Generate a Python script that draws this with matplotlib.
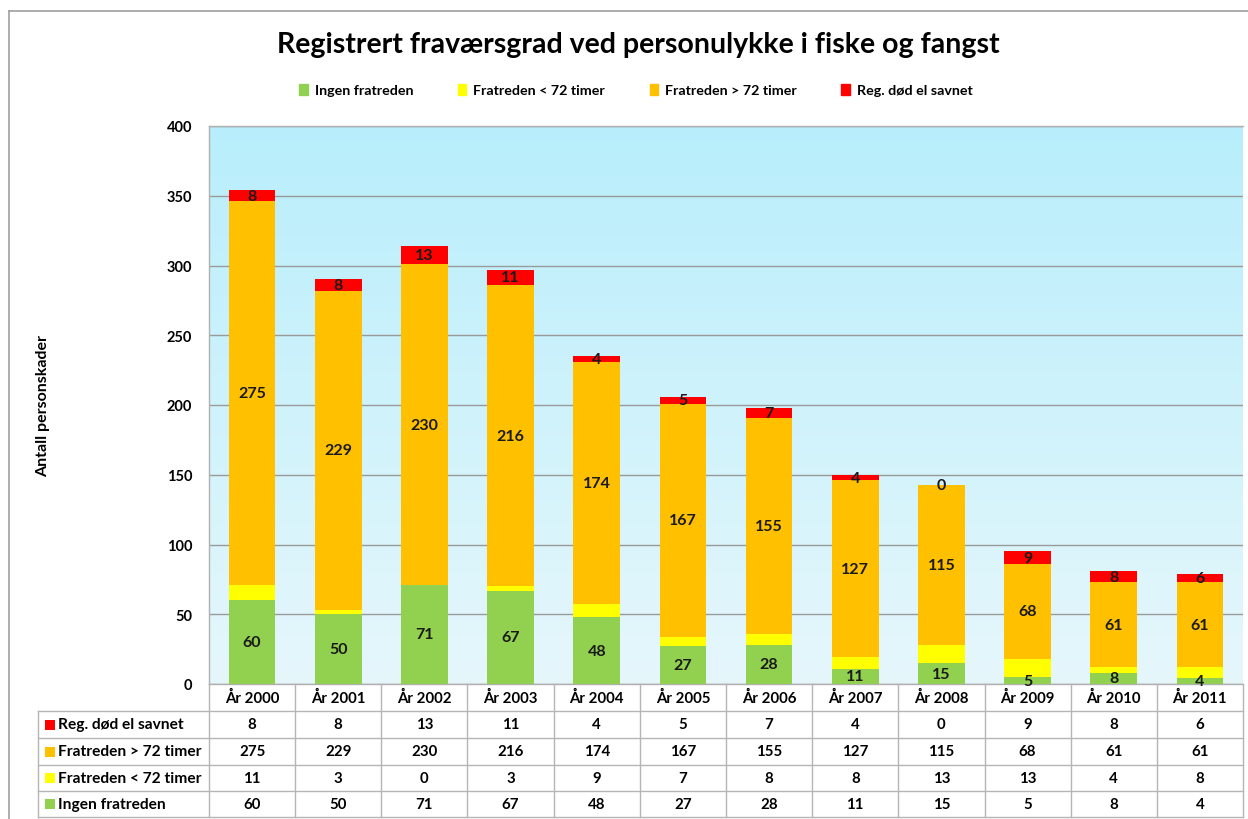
import matplotlib
matplotlib.use("Agg")
import matplotlib.pyplot as plt
import numpy as np
from matplotlib.lines import Line2D
from matplotlib.patches import Rectangle
import matplotlib.transforms as mtransforms

plt.rcParams['font.family'] = ['Lato', 'DejaVu Sans']

years = ["År 2000", "År 2001", "År 2002", "År 2003", "År 2004", "År 2005",
         "År 2006", "År 2007", "År 2008", "År 2009", "År 2010", "År 2011"]
ingen = [60, 50, 71, 67, 48, 27, 28, 11, 15, 5, 8, 4]
under72 = [11, 3, 0, 3, 9, 7, 8, 8, 13, 13, 4, 8]
over72 = [275, 229, 230, 216, 174, 167, 155, 127, 115, 68, 61, 61]
dod = [8, 8, 13, 11, 4, 5, 7, 4, 0, 9, 8, 6]

series_names = ["Ingen fratreden", "Fratreden < 72 timer", "Fratreden > 72 timer", "Reg. død el savnet"]
colors = ["#92D050", "#FFFF00", "#FFC000", "#FF0000"]

W, H = 1248, 820
fig = plt.figure(figsize=(W / 100, H / 100), dpi=100)

def fx(px):
    return px / W

def fy(py):
    return 1 - py / H

ax_l, ax_r, ax_t, ax_b = 209, 1243, 127, 685
ax = fig.add_axes([fx(ax_l), fy(ax_b), fx(ax_r - ax_l), (ax_b - ax_t) / H])

# gradient background
grad = np.linspace(0, 1, 256).reshape(-1, 1)
top = np.array([184, 238, 251]) / 255
bot = np.array([230, 247, 252]) / 255
img = bot + (top - bot) * grad
img = img.reshape(256, 1, 3)
ax.imshow(img, extent=[0, 1, 0, 1], transform=ax.transAxes, origin='lower',
          aspect='auto', zorder=0)

x = np.arange(len(years))
width = 0.54
data = [ingen, under72, over72, dod]
bottom = np.zeros(len(years))
containers = []
for vals, c, name in zip(data, colors, series_names):
    cont = ax.bar(x, vals, width, bottom=bottom, color=c, label=name, zorder=3)
    containers.append(cont)
    bottom = bottom + np.array(vals)

for idx in (0, 2, 3):
    ax.bar_label(containers[idx], labels=[str(v) for v in data[idx]], label_type='center',
                 fontsize=11.5, fontweight='bold', color='#1a1a1a', zorder=4)

ax.set_xlim(-0.5, len(years) - 0.5)
ax.set_ylim(0, 400)
ax.set_yticks(range(0, 401, 50))
ax.set_yticklabels([str(v) for v in range(0, 401, 50)], fontsize=10.5, fontweight='bold')
ax.tick_params(axis='y', length=0, pad=12)
ax.set_xticks([])
ax.yaxis.grid(True, color='#9a9a9a', linewidth=1.0, zorder=1)
ax.set_axisbelow(True)
for s in ax.spines.values():
    s.set_color('#b0b0b0')
    s.set_linewidth(1.0)
ax.spines['right'].set_visible(False)

fig.text(fx(43), fy(406), "Antall personskader", rotation=90, ha='center', va='center',
         fontsize=11.5, fontweight='bold')

fig.text(fx(638), fy(45), "Registrert fraværsgrad ved personulykke i fiske og fangst",
         ha='center', va='center', fontsize=20.5, fontweight='bold')

leg = fig.legend(handles=[Rectangle((0, 0), 1, 1, color=c) for c in colors], labels=series_names,
                 loc='center', bbox_to_anchor=(fx(636), fy(91)), ncol=4, frameon=False,
                 handlelength=0.6, handleheight=0.8, columnspacing=3.1,
                 handletextpad=0.5, prop={'weight': 'bold', 'size': 10.3})

# data table
blend = mtransforms.blended_transform_factory(ax.transData, fig.transFigure)
row_tops = [685, 712, 739, 766, 792, 818]
tab_l = 38
lc = '#b5b5b5'
for i, ry in enumerate(row_tops):
    if i == 0:
        continue
    fig.add_artist(Line2D([fx(tab_l), fx(ax_r)], [fy(ry), fy(ry)], transform=fig.transFigure,
                          color=lc, linewidth=1.0))
for k in range(len(years) + 1):
    fig.add_artist(Line2D([k - 0.5, k - 0.5], [fy(685), fy(818)], transform=blend,
                          color=lc, linewidth=1.0))
fig.add_artist(Line2D([fx(tab_l), fx(tab_l)], [fy(712), fy(818)], transform=fig.transFigure,
                      color=lc, linewidth=1.0))

for i, yl in enumerate(years):
    fig.text(i, fy(698.5), yl, transform=blend, ha='center', va='center',
             fontsize=10.8, fontweight='bold')

table_rows = [(series_names[3], colors[3], dod), (series_names[2], colors[2], over72),
              (series_names[1], colors[1], under72), (series_names[0], colors[0], ingen)]
for r, (name, c, vals) in enumerate(table_rows):
    yc = (row_tops[r + 1] + row_tops[r + 2]) / 2
    fig.add_artist(Rectangle((fx(45), fy(yc + 5)), fx(10), 10 / H, transform=fig.transFigure,
                             facecolor=c, edgecolor='none'))
    fig.text(fx(58), fy(yc), name, ha='left', va='center', fontsize=11.2, fontweight='bold')
    for i, v in enumerate(vals):
        fig.text(i, fy(yc), str(v), transform=blend, ha='center', va='center',
                 fontsize=10.8, fontweight='bold')

# outer frame
fig.add_artist(Line2D([fx(9), fx(1248)], [fy(12), fy(12)], transform=fig.transFigure,
                      color='#a0a0a0', linewidth=1.2))
fig.add_artist(Line2D([fx(9), fx(9)], [fy(12), fy(820)], transform=fig.transFigure,
                      color='#a0a0a0', linewidth=1.2))

fig.savefig("out.png", dpi=100)
